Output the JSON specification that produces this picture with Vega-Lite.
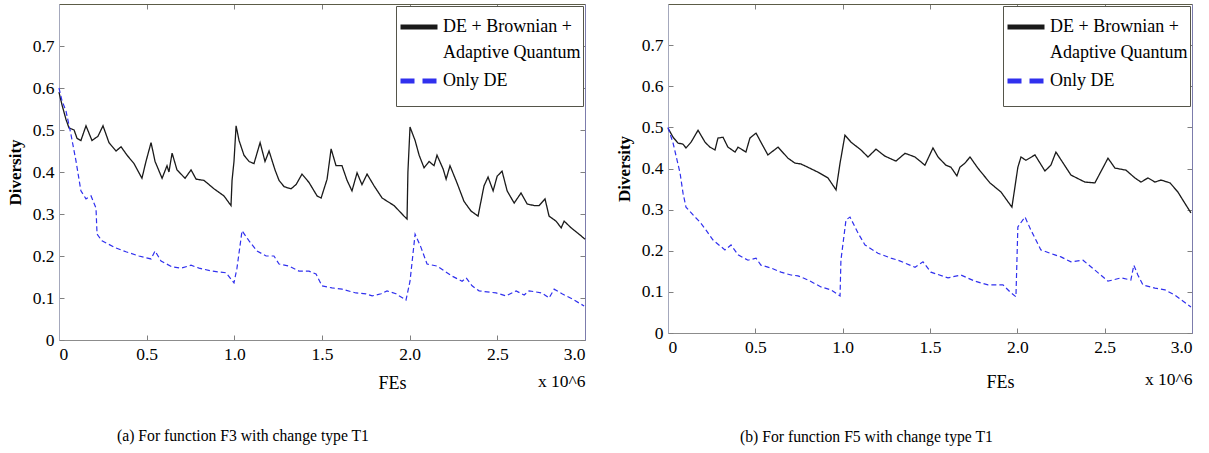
{
  "$schema": "https://vega.github.io/schema/vega-lite/v6.json",
  "background": "white",
  "padding": {"left": 6, "top": 3, "right": 5, "bottom": 5},
  "spacing": 27,
  "config": {
    "font": "Liberation Serif, Times New Roman, serif",
    "view": {"stroke": null},
    "axis": {"grid": false, "labelFont": "Liberation Serif, Times New Roman, serif", "labelFontSize": 17.5, "labelColor": "#000", "titleFont": "Liberation Serif, Times New Roman, serif", "titleColor": "#000", "tickColor": "#808080", "tickSize": -5, "labelPadding": 10, "labelOverlap": false},
    "legend": {"labelFont": "Liberation Serif, Times New Roman, serif"},
    "title": {"font": "Liberation Serif, Times New Roman, serif"}
  },
  "resolve": {"legend": {"color": "independent"}},
  "datasets": {
    "f3": [
      {"s":"DE + Brownian + Adaptive Quantum","x":0,"y":0.59},{"s":"DE + Brownian + Adaptive Quantum","x":0.017,"y":0.56},{"s":"DE + Brownian + Adaptive Quantum","x":0.04,"y":0.525},{"s":"DE + Brownian + Adaptive Quantum","x":0.057,"y":0.505},{"s":"DE + Brownian + Adaptive Quantum","x":0.086,"y":0.5},{"s":"DE + Brownian + Adaptive Quantum","x":0.103,"y":0.48},{"s":"DE + Brownian + Adaptive Quantum","x":0.125,"y":0.475},{"s":"DE + Brownian + Adaptive Quantum","x":0.154,"y":0.51},{"s":"DE + Brownian + Adaptive Quantum","x":0.188,"y":0.475},{"s":"DE + Brownian + Adaptive Quantum","x":0.222,"y":0.485},{"s":"DE + Brownian + Adaptive Quantum","x":0.251,"y":0.51},{"s":"DE + Brownian + Adaptive Quantum","x":0.285,"y":0.47},{"s":"DE + Brownian + Adaptive Quantum","x":0.325,"y":0.45},{"s":"DE + Brownian + Adaptive Quantum","x":0.354,"y":0.46},{"s":"DE + Brownian + Adaptive Quantum","x":0.388,"y":0.44},{"s":"DE + Brownian + Adaptive Quantum","x":0.428,"y":0.42},{"s":"DE + Brownian + Adaptive Quantum","x":0.473,"y":0.385},{"s":"DE + Brownian + Adaptive Quantum","x":0.496,"y":0.425},{"s":"DE + Brownian + Adaptive Quantum","x":0.525,"y":0.47},{"s":"DE + Brownian + Adaptive Quantum","x":0.548,"y":0.425},{"s":"DE + Brownian + Adaptive Quantum","x":0.588,"y":0.385},{"s":"DE + Brownian + Adaptive Quantum","x":0.616,"y":0.415},{"s":"DE + Brownian + Adaptive Quantum","x":0.627,"y":0.4},{"s":"DE + Brownian + Adaptive Quantum","x":0.645,"y":0.445},{"s":"DE + Brownian + Adaptive Quantum","x":0.673,"y":0.405},{"s":"DE + Brownian + Adaptive Quantum","x":0.719,"y":0.385},{"s":"DE + Brownian + Adaptive Quantum","x":0.753,"y":0.405},{"s":"DE + Brownian + Adaptive Quantum","x":0.782,"y":0.383},{"s":"DE + Brownian + Adaptive Quantum","x":0.827,"y":0.38},{"s":"DE + Brownian + Adaptive Quantum","x":0.884,"y":0.36},{"s":"DE + Brownian + Adaptive Quantum","x":0.941,"y":0.343},{"s":"DE + Brownian + Adaptive Quantum","x":0.981,"y":0.32},{"s":"DE + Brownian + Adaptive Quantum","x":0.987,"y":0.38},{"s":"DE + Brownian + Adaptive Quantum","x":0.998,"y":0.425},{"s":"DE + Brownian + Adaptive Quantum","x":1.01,"y":0.51},{"s":"DE + Brownian + Adaptive Quantum","x":1.027,"y":0.475},{"s":"DE + Brownian + Adaptive Quantum","x":1.055,"y":0.44},{"s":"DE + Brownian + Adaptive Quantum","x":1.084,"y":0.425},{"s":"DE + Brownian + Adaptive Quantum","x":1.112,"y":0.42},{"s":"DE + Brownian + Adaptive Quantum","x":1.147,"y":0.47},{"s":"DE + Brownian + Adaptive Quantum","x":1.175,"y":0.425},{"s":"DE + Brownian + Adaptive Quantum","x":1.198,"y":0.45},{"s":"DE + Brownian + Adaptive Quantum","x":1.232,"y":0.405},{"s":"DE + Brownian + Adaptive Quantum","x":1.255,"y":0.38},{"s":"DE + Brownian + Adaptive Quantum","x":1.284,"y":0.365},{"s":"DE + Brownian + Adaptive Quantum","x":1.323,"y":0.36},{"s":"DE + Brownian + Adaptive Quantum","x":1.352,"y":0.37},{"s":"DE + Brownian + Adaptive Quantum","x":1.386,"y":0.395},{"s":"DE + Brownian + Adaptive Quantum","x":1.426,"y":0.375},{"s":"DE + Brownian + Adaptive Quantum","x":1.472,"y":0.343},{"s":"DE + Brownian + Adaptive Quantum","x":1.495,"y":0.338},{"s":"DE + Brownian + Adaptive Quantum","x":1.529,"y":0.383},{"s":"DE + Brownian + Adaptive Quantum","x":1.552,"y":0.455},{"s":"DE + Brownian + Adaptive Quantum","x":1.58,"y":0.415},{"s":"DE + Brownian + Adaptive Quantum","x":1.614,"y":0.415},{"s":"DE + Brownian + Adaptive Quantum","x":1.643,"y":0.38},{"s":"DE + Brownian + Adaptive Quantum","x":1.671,"y":0.355},{"s":"DE + Brownian + Adaptive Quantum","x":1.7,"y":0.398},{"s":"DE + Brownian + Adaptive Quantum","x":1.728,"y":0.37},{"s":"DE + Brownian + Adaptive Quantum","x":1.757,"y":0.395},{"s":"DE + Brownian + Adaptive Quantum","x":1.797,"y":0.367},{"s":"DE + Brownian + Adaptive Quantum","x":1.843,"y":0.338},{"s":"DE + Brownian + Adaptive Quantum","x":1.911,"y":0.32},{"s":"DE + Brownian + Adaptive Quantum","x":1.968,"y":0.295},{"s":"DE + Brownian + Adaptive Quantum","x":1.985,"y":0.288},{"s":"DE + Brownian + Adaptive Quantum","x":1.99,"y":0.4},{"s":"DE + Brownian + Adaptive Quantum","x":2.002,"y":0.507},{"s":"DE + Brownian + Adaptive Quantum","x":2.031,"y":0.475},{"s":"DE + Brownian + Adaptive Quantum","x":2.054,"y":0.44},{"s":"DE + Brownian + Adaptive Quantum","x":2.082,"y":0.41},{"s":"DE + Brownian + Adaptive Quantum","x":2.111,"y":0.425},{"s":"DE + Brownian + Adaptive Quantum","x":2.139,"y":0.415},{"s":"DE + Brownian + Adaptive Quantum","x":2.156,"y":0.44},{"s":"DE + Brownian + Adaptive Quantum","x":2.191,"y":0.407},{"s":"DE + Brownian + Adaptive Quantum","x":2.208,"y":0.383},{"s":"DE + Brownian + Adaptive Quantum","x":2.23,"y":0.415},{"s":"DE + Brownian + Adaptive Quantum","x":2.27,"y":0.374},{"s":"DE + Brownian + Adaptive Quantum","x":2.31,"y":0.33},{"s":"DE + Brownian + Adaptive Quantum","x":2.35,"y":0.307},{"s":"DE + Brownian + Adaptive Quantum","x":2.39,"y":0.295},{"s":"DE + Brownian + Adaptive Quantum","x":2.424,"y":0.367},{"s":"DE + Brownian + Adaptive Quantum","x":2.447,"y":0.388},{"s":"DE + Brownian + Adaptive Quantum","x":2.476,"y":0.355},{"s":"DE + Brownian + Adaptive Quantum","x":2.499,"y":0.39},{"s":"DE + Brownian + Adaptive Quantum","x":2.527,"y":0.402},{"s":"DE + Brownian + Adaptive Quantum","x":2.556,"y":0.355},{"s":"DE + Brownian + Adaptive Quantum","x":2.596,"y":0.326},{"s":"DE + Brownian + Adaptive Quantum","x":2.635,"y":0.35},{"s":"DE + Brownian + Adaptive Quantum","x":2.67,"y":0.324},{"s":"DE + Brownian + Adaptive Quantum","x":2.71,"y":0.32},{"s":"DE + Brownian + Adaptive Quantum","x":2.738,"y":0.32},{"s":"DE + Brownian + Adaptive Quantum","x":2.772,"y":0.336},{"s":"DE + Brownian + Adaptive Quantum","x":2.795,"y":0.295},{"s":"DE + Brownian + Adaptive Quantum","x":2.835,"y":0.283},{"s":"DE + Brownian + Adaptive Quantum","x":2.864,"y":0.267},{"s":"DE + Brownian + Adaptive Quantum","x":2.881,"y":0.283},{"s":"DE + Brownian + Adaptive Quantum","x":2.921,"y":0.267},{"s":"DE + Brownian + Adaptive Quantum","x":2.966,"y":0.252},{"s":"DE + Brownian + Adaptive Quantum","x":3.0,"y":0.24},
      {"s":"Only DE","x":0,"y":0.6},{"s":"Only DE","x":0.017,"y":0.57},{"s":"Only DE","x":0.04,"y":0.545},{"s":"Only DE","x":0.068,"y":0.49},{"s":"Only DE","x":0.097,"y":0.426},{"s":"Only DE","x":0.125,"y":0.355},{"s":"Only DE","x":0.154,"y":0.336},{"s":"Only DE","x":0.183,"y":0.343},{"s":"Only DE","x":0.211,"y":0.314},{"s":"Only DE","x":0.217,"y":0.252},{"s":"Only DE","x":0.245,"y":0.236},{"s":"Only DE","x":0.325,"y":0.219},{"s":"Only DE","x":0.382,"y":0.21},{"s":"Only DE","x":0.456,"y":0.2},{"s":"Only DE","x":0.525,"y":0.193},{"s":"Only DE","x":0.548,"y":0.212},{"s":"Only DE","x":0.582,"y":0.188},{"s":"Only DE","x":0.645,"y":0.174},{"s":"Only DE","x":0.696,"y":0.171},{"s":"Only DE","x":0.753,"y":0.178},{"s":"Only DE","x":0.799,"y":0.171},{"s":"Only DE","x":0.873,"y":0.164},{"s":"Only DE","x":0.953,"y":0.16},{"s":"Only DE","x":0.998,"y":0.136},{"s":"Only DE","x":1.015,"y":0.171},{"s":"Only DE","x":1.044,"y":0.26},{"s":"Only DE","x":1.084,"y":0.236},{"s":"Only DE","x":1.129,"y":0.212},{"s":"Only DE","x":1.181,"y":0.2},{"s":"Only DE","x":1.226,"y":0.2},{"s":"Only DE","x":1.255,"y":0.181},{"s":"Only DE","x":1.312,"y":0.176},{"s":"Only DE","x":1.369,"y":0.164},{"s":"Only DE","x":1.426,"y":0.164},{"s":"Only DE","x":1.466,"y":0.157},{"s":"Only DE","x":1.5,"y":0.129},{"s":"Only DE","x":1.557,"y":0.124},{"s":"Only DE","x":1.614,"y":0.121},{"s":"Only DE","x":1.694,"y":0.112},{"s":"Only DE","x":1.751,"y":0.11},{"s":"Only DE","x":1.786,"y":0.105},{"s":"Only DE","x":1.837,"y":0.11},{"s":"Only DE","x":1.871,"y":0.117},{"s":"Only DE","x":1.922,"y":0.11},{"s":"Only DE","x":1.979,"y":0.095},{"s":"Only DE","x":2.002,"y":0.14},{"s":"Only DE","x":2.031,"y":0.252},{"s":"Only DE","x":2.065,"y":0.22},{"s":"Only DE","x":2.099,"y":0.181},{"s":"Only DE","x":2.156,"y":0.176},{"s":"Only DE","x":2.213,"y":0.16},{"s":"Only DE","x":2.242,"y":0.152},{"s":"Only DE","x":2.299,"y":0.14},{"s":"Only DE","x":2.322,"y":0.148},{"s":"Only DE","x":2.356,"y":0.129},{"s":"Only DE","x":2.396,"y":0.117},{"s":"Only DE","x":2.493,"y":0.112},{"s":"Only DE","x":2.55,"y":0.105},{"s":"Only DE","x":2.607,"y":0.117},{"s":"Only DE","x":2.653,"y":0.107},{"s":"Only DE","x":2.681,"y":0.117},{"s":"Only DE","x":2.755,"y":0.112},{"s":"Only DE","x":2.795,"y":0.1},{"s":"Only DE","x":2.824,"y":0.121},{"s":"Only DE","x":2.869,"y":0.11},{"s":"Only DE","x":2.926,"y":0.098},{"s":"Only DE","x":2.995,"y":0.081}
    ],
    "f5": [
      {"s":"DE + Brownian + Adaptive Quantum","x":0,"y":0.498},{"s":"DE + Brownian + Adaptive Quantum","x":0.029,"y":0.476},{"s":"DE + Brownian + Adaptive Quantum","x":0.057,"y":0.462},{"s":"DE + Brownian + Adaptive Quantum","x":0.086,"y":0.459},{"s":"DE + Brownian + Adaptive Quantum","x":0.103,"y":0.45},{"s":"DE + Brownian + Adaptive Quantum","x":0.132,"y":0.464},{"s":"DE + Brownian + Adaptive Quantum","x":0.172,"y":0.493},{"s":"DE + Brownian + Adaptive Quantum","x":0.212,"y":0.464},{"s":"DE + Brownian + Adaptive Quantum","x":0.24,"y":0.452},{"s":"DE + Brownian + Adaptive Quantum","x":0.269,"y":0.445},{"s":"DE + Brownian + Adaptive Quantum","x":0.286,"y":0.474},{"s":"DE + Brownian + Adaptive Quantum","x":0.315,"y":0.476},{"s":"DE + Brownian + Adaptive Quantum","x":0.343,"y":0.452},{"s":"DE + Brownian + Adaptive Quantum","x":0.384,"y":0.44},{"s":"DE + Brownian + Adaptive Quantum","x":0.401,"y":0.452},{"s":"DE + Brownian + Adaptive Quantum","x":0.446,"y":0.44},{"s":"DE + Brownian + Adaptive Quantum","x":0.469,"y":0.474},{"s":"DE + Brownian + Adaptive Quantum","x":0.504,"y":0.486},{"s":"DE + Brownian + Adaptive Quantum","x":0.532,"y":0.464},{"s":"DE + Brownian + Adaptive Quantum","x":0.572,"y":0.433},{"s":"DE + Brownian + Adaptive Quantum","x":0.63,"y":0.452},{"s":"DE + Brownian + Adaptive Quantum","x":0.687,"y":0.425},{"s":"DE + Brownian + Adaptive Quantum","x":0.727,"y":0.413},{"s":"DE + Brownian + Adaptive Quantum","x":0.761,"y":0.411},{"s":"DE + Brownian + Adaptive Quantum","x":0.801,"y":0.403},{"s":"DE + Brownian + Adaptive Quantum","x":0.859,"y":0.391},{"s":"DE + Brownian + Adaptive Quantum","x":0.916,"y":0.377},{"s":"DE + Brownian + Adaptive Quantum","x":0.962,"y":0.348},{"s":"DE + Brownian + Adaptive Quantum","x":0.985,"y":0.413},{"s":"DE + Brownian + Adaptive Quantum","x":1.013,"y":0.481},{"s":"DE + Brownian + Adaptive Quantum","x":1.048,"y":0.464},{"s":"DE + Brownian + Adaptive Quantum","x":1.105,"y":0.445},{"s":"DE + Brownian + Adaptive Quantum","x":1.145,"y":0.428},{"s":"DE + Brownian + Adaptive Quantum","x":1.191,"y":0.447},{"s":"DE + Brownian + Adaptive Quantum","x":1.242,"y":0.43},{"s":"DE + Brownian + Adaptive Quantum","x":1.305,"y":0.418},{"s":"DE + Brownian + Adaptive Quantum","x":1.357,"y":0.437},{"s":"DE + Brownian + Adaptive Quantum","x":1.414,"y":0.428},{"s":"DE + Brownian + Adaptive Quantum","x":1.471,"y":0.408},{"s":"DE + Brownian + Adaptive Quantum","x":1.517,"y":0.45},{"s":"DE + Brownian + Adaptive Quantum","x":1.546,"y":0.428},{"s":"DE + Brownian + Adaptive Quantum","x":1.591,"y":0.408},{"s":"DE + Brownian + Adaptive Quantum","x":1.62,"y":0.403},{"s":"DE + Brownian + Adaptive Quantum","x":1.654,"y":0.382},{"s":"DE + Brownian + Adaptive Quantum","x":1.671,"y":0.403},{"s":"DE + Brownian + Adaptive Quantum","x":1.7,"y":0.413},{"s":"DE + Brownian + Adaptive Quantum","x":1.729,"y":0.428},{"s":"DE + Brownian + Adaptive Quantum","x":1.774,"y":0.401},{"s":"DE + Brownian + Adaptive Quantum","x":1.843,"y":0.365},{"s":"DE + Brownian + Adaptive Quantum","x":1.906,"y":0.343},{"s":"DE + Brownian + Adaptive Quantum","x":1.969,"y":0.306},{"s":"DE + Brownian + Adaptive Quantum","x":1.981,"y":0.34},{"s":"DE + Brownian + Adaptive Quantum","x":2.003,"y":0.403},{"s":"DE + Brownian + Adaptive Quantum","x":2.021,"y":0.428},{"s":"DE + Brownian + Adaptive Quantum","x":2.049,"y":0.42},{"s":"DE + Brownian + Adaptive Quantum","x":2.101,"y":0.433},{"s":"DE + Brownian + Adaptive Quantum","x":2.158,"y":0.394},{"s":"DE + Brownian + Adaptive Quantum","x":2.192,"y":0.408},{"s":"DE + Brownian + Adaptive Quantum","x":2.221,"y":0.44},{"s":"DE + Brownian + Adaptive Quantum","x":2.307,"y":0.384},{"s":"DE + Brownian + Adaptive Quantum","x":2.387,"y":0.367},{"s":"DE + Brownian + Adaptive Quantum","x":2.444,"y":0.365},{"s":"DE + Brownian + Adaptive Quantum","x":2.519,"y":0.425},{"s":"DE + Brownian + Adaptive Quantum","x":2.559,"y":0.401},{"s":"DE + Brownian + Adaptive Quantum","x":2.622,"y":0.396},{"s":"DE + Brownian + Adaptive Quantum","x":2.673,"y":0.377},{"s":"DE + Brownian + Adaptive Quantum","x":2.708,"y":0.367},{"s":"DE + Brownian + Adaptive Quantum","x":2.748,"y":0.377},{"s":"DE + Brownian + Adaptive Quantum","x":2.788,"y":0.367},{"s":"DE + Brownian + Adaptive Quantum","x":2.822,"y":0.372},{"s":"DE + Brownian + Adaptive Quantum","x":2.874,"y":0.365},{"s":"DE + Brownian + Adaptive Quantum","x":2.919,"y":0.343},{"s":"DE + Brownian + Adaptive Quantum","x":2.948,"y":0.323},{"s":"DE + Brownian + Adaptive Quantum","x":2.994,"y":0.292},
      {"s":"Only DE","x":0,"y":0.5},{"s":"Only DE","x":0.029,"y":0.462},{"s":"Only DE","x":0.069,"y":0.389},{"s":"Only DE","x":0.086,"y":0.34},{"s":"Only DE","x":0.103,"y":0.306},{"s":"Only DE","x":0.155,"y":0.282},{"s":"Only DE","x":0.183,"y":0.27},{"s":"Only DE","x":0.218,"y":0.25},{"s":"Only DE","x":0.258,"y":0.226},{"s":"Only DE","x":0.326,"y":0.202},{"s":"Only DE","x":0.361,"y":0.214},{"s":"Only DE","x":0.401,"y":0.19},{"s":"Only DE","x":0.458,"y":0.177},{"s":"Only DE","x":0.504,"y":0.182},{"s":"Only DE","x":0.532,"y":0.165},{"s":"Only DE","x":0.59,"y":0.158},{"s":"Only DE","x":0.647,"y":0.148},{"s":"Only DE","x":0.704,"y":0.141},{"s":"Only DE","x":0.744,"y":0.139},{"s":"Only DE","x":0.801,"y":0.129},{"s":"Only DE","x":0.876,"y":0.112},{"s":"Only DE","x":0.933,"y":0.105},{"s":"Only DE","x":0.985,"y":0.09},{"s":"Only DE","x":0.99,"y":0.177},{"s":"Only DE","x":1.019,"y":0.275},{"s":"Only DE","x":1.042,"y":0.282},{"s":"Only DE","x":1.088,"y":0.243},{"s":"Only DE","x":1.128,"y":0.214},{"s":"Only DE","x":1.202,"y":0.194},{"s":"Only DE","x":1.276,"y":0.182},{"s":"Only DE","x":1.317,"y":0.177},{"s":"Only DE","x":1.357,"y":0.17},{"s":"Only DE","x":1.414,"y":0.16},{"s":"Only DE","x":1.46,"y":0.173},{"s":"Only DE","x":1.505,"y":0.148},{"s":"Only DE","x":1.603,"y":0.134},{"s":"Only DE","x":1.677,"y":0.141},{"s":"Only DE","x":1.757,"y":0.126},{"s":"Only DE","x":1.832,"y":0.117},{"s":"Only DE","x":1.918,"y":0.117},{"s":"Only DE","x":1.958,"y":0.1},{"s":"Only DE","x":1.992,"y":0.088},{"s":"Only DE","x":2.003,"y":0.258},{"s":"Only DE","x":2.044,"y":0.282},{"s":"Only DE","x":2.078,"y":0.25},{"s":"Only DE","x":2.135,"y":0.202},{"s":"Only DE","x":2.215,"y":0.19},{"s":"Only DE","x":2.25,"y":0.185},{"s":"Only DE","x":2.307,"y":0.173},{"s":"Only DE","x":2.376,"y":0.177},{"s":"Only DE","x":2.444,"y":0.153},{"s":"Only DE","x":2.519,"y":0.126},{"s":"Only DE","x":2.593,"y":0.134},{"s":"Only DE","x":2.65,"y":0.129},{"s":"Only DE","x":2.667,"y":0.165},{"s":"Only DE","x":2.69,"y":0.141},{"s":"Only DE","x":2.719,"y":0.117},{"s":"Only DE","x":2.788,"y":0.109},{"s":"Only DE","x":2.845,"y":0.105},{"s":"Only DE","x":2.902,"y":0.092},{"s":"Only DE","x":2.994,"y":0.063}
    ]
  },
  "hconcat": [
    {
      "width": 526, "height": 336,
      "data": {"name": "f3"},
      "title": {"text": "(a) For function F3 with change type T1", "orient": "bottom", "anchor": "start", "frame": "group", "dx": 58, "offset": 37, "fontSize": 15.7, "fontWeight": "normal", "color": "#000"},
      "encoding": {
        "color": {"field": "s", "type": "nominal", "scale": {"domain": ["DE + Brownian + Adaptive Quantum", "Only DE"], "range": ["#1a1a1a", "#3030ee"]},
          "legend": {"title": null, "orient": "top-right", "offset": 2, "fillColor": "white", "strokeColor": "#55554a", "padding": 2, "symbolType": "stroke", "symbolStrokeWidth": 5, "symbolSize": 1369, "labelFontSize": 18, "labelColor": "#000", "labelLimit": 400, "labelOffset": 3, "rowPadding": 2,
            "labelExpr": "datum.label === 'Only DE' ? ['Only DE', ' '] : ['DE + Brownian +', 'Adaptive Quantum']",
            "encode": {"labels": {"update": {"lineHeight": {"signal": "datum.value === 'Only DE' ? 14 : 26"}, "y": {"signal": "datum.value === 'Only DE' ? 17 : 19"}}}, "symbols": {"update": {"y": {"signal": "datum.value === 'Only DE' ? 17 : 19"}, "strokeDash": {"signal": "datum.value === 'Only DE' ? [14, 8] : [1, 0]"}, "stroke": {"signal": "datum.value === 'Only DE' ? '#5e5ec8' : '#000000'"}}}}}},
        "strokeDash": {"field": "s", "type": "nominal", "scale": {"domain": ["DE + Brownian + Adaptive Quantum", "Only DE"], "range": [[1, 0], [5, 3]]}, "legend": null}
      },
      "layer": [
        {
          "transform": [{"filter": "datum.s !== 'Only DE'"}],
          "mark": {"type": "line", "strokeWidth": 1.3},
          "encoding": {
            "x": {"field": "x", "type": "quantitative", "scale": {"domain": [0, 3]},
              "axis": {"orient": "bottom", "values": [0, 0.5, 1, 1.5, 2, 2.5, 3], "domainColor": "#8c8c8c", "labelFlush": true, "labelLineHeight": 27,
                "labelExpr": "datum.value == 3 ? ['3.0', 'x 10^6'] : (datum.value == 0 ? '0' : format(datum.value, '.1f'))",
                "title": "FEs", "titleFontSize": 18, "titleFontWeight": "normal", "titleX": 333, "titleY": 43, "titleBaseline": "middle", "titleAlign": "center"}},
            "y": {"field": "y", "type": "quantitative", "scale": {"domain": [0, 0.8]},
              "axis": {"orient": "left", "values": [0, 0.1, 0.2, 0.3, 0.4, 0.5, 0.6, 0.7], "domainColor": "#a4a8bc",
                "labelExpr": "datum.value == 0 ? '0' : format(datum.value, '.1f')",
                "title": "Diversity", "titleFontSize": 17, "titleFontWeight": "bold", "titlePadding": 8}}
          }
        },
        {
          "transform": [{"filter": "datum.s === 'Only DE'"}],
          "mark": {"type": "line", "strokeWidth": 1.2},
          "encoding": {
            "x": {"field": "x", "type": "quantitative", "scale": {"domain": [0, 3]},
              "axis": {"orient": "top", "values": [0, 0.5, 1, 1.5, 2, 2.5, 3], "labels": false, "title": null, "domainColor": "#5c5c48"}},
            "y": {"field": "y", "type": "quantitative", "scale": {"domain": [0, 0.8]},
              "axis": {"orient": "right", "values": [0, 0.1, 0.2, 0.3, 0.4, 0.5, 0.6, 0.7], "labels": false, "title": null, "domainColor": "#7c7cac"}}
          }
        }
      ],
      "resolve": {"axis": {"x": "independent", "y": "independent"}}
    },
    {
      "width": 524, "height": 329,
      "data": {"name": "f5"},
      "title": {"text": "(b) For function F5 with change type T1", "orient": "bottom", "anchor": "start", "frame": "group", "dx": 72, "offset": 39, "fontSize": 15.7, "fontWeight": "normal", "color": "#000"},
      "encoding": {
        "color": {"field": "s", "type": "nominal", "scale": {"domain": ["DE + Brownian + Adaptive Quantum", "Only DE"], "range": ["#1a1a1a", "#3030ee"]},
          "legend": {"title": null, "orient": "top-right", "offset": 2, "fillColor": "white", "strokeColor": "#55554a", "padding": 2, "symbolType": "stroke", "symbolStrokeWidth": 5, "symbolSize": 1369, "labelFontSize": 18, "labelColor": "#000", "labelLimit": 400, "labelOffset": 3, "rowPadding": 2,
            "labelExpr": "datum.label === 'Only DE' ? ['Only DE', ' '] : ['DE + Brownian +', 'Adaptive Quantum']",
            "encode": {"labels": {"update": {"lineHeight": {"signal": "datum.value === 'Only DE' ? 14 : 26"}, "y": {"signal": "datum.value === 'Only DE' ? 17 : 19"}}}, "symbols": {"update": {"y": {"signal": "datum.value === 'Only DE' ? 17 : 19"}, "strokeDash": {"signal": "datum.value === 'Only DE' ? [14, 8] : [1, 0]"}, "stroke": {"signal": "datum.value === 'Only DE' ? '#5e5ec8' : '#000000'"}}}}}},
        "strokeDash": {"field": "s", "type": "nominal", "scale": {"domain": ["DE + Brownian + Adaptive Quantum", "Only DE"], "range": [[1, 0], [5, 3]]}, "legend": null}
      },
      "layer": [
        {
          "transform": [{"filter": "datum.s !== 'Only DE'"}],
          "mark": {"type": "line", "strokeWidth": 1.3},
          "encoding": {
            "x": {"field": "x", "type": "quantitative", "scale": {"domain": [0, 3]},
              "axis": {"orient": "bottom", "values": [0, 0.5, 1, 1.5, 2, 2.5, 3], "domainColor": "#8c8c8c", "labelFlush": true, "labelLineHeight": 32,
                "labelExpr": "datum.value == 3 ? ['3.0', 'x 10^6'] : (datum.value == 0 ? '0' : format(datum.value, '.1f'))",
                "title": "FEs", "titleFontSize": 18, "titleFontWeight": "normal", "titleX": 332, "titleY": 49, "titleBaseline": "middle", "titleAlign": "center"}},
            "y": {"field": "y", "type": "quantitative", "scale": {"domain": [0, 0.8]},
              "axis": {"orient": "left", "values": [0, 0.1, 0.2, 0.3, 0.4, 0.5, 0.6, 0.7], "domainColor": "#a4a8bc",
                "labelExpr": "datum.value == 0 ? '0' : format(datum.value, '.1f')",
                "title": "Diversity", "titleFontSize": 17, "titleFontWeight": "bold", "titlePadding": 8}}
          }
        },
        {
          "transform": [{"filter": "datum.s === 'Only DE'"}],
          "mark": {"type": "line", "strokeWidth": 1.2},
          "encoding": {
            "x": {"field": "x", "type": "quantitative", "scale": {"domain": [0, 3]},
              "axis": {"orient": "top", "values": [0, 0.5, 1, 1.5, 2, 2.5, 3], "labels": false, "title": null, "domainColor": "#5c5c48"}},
            "y": {"field": "y", "type": "quantitative", "scale": {"domain": [0, 0.8]},
              "axis": {"orient": "right", "values": [0, 0.1, 0.2, 0.3, 0.4, 0.5, 0.6, 0.7], "labels": false, "title": null, "domainColor": "#7c7cac"}}
          }
        }
      ],
      "resolve": {"axis": {"x": "independent", "y": "independent"}}
    }
  ]
}
